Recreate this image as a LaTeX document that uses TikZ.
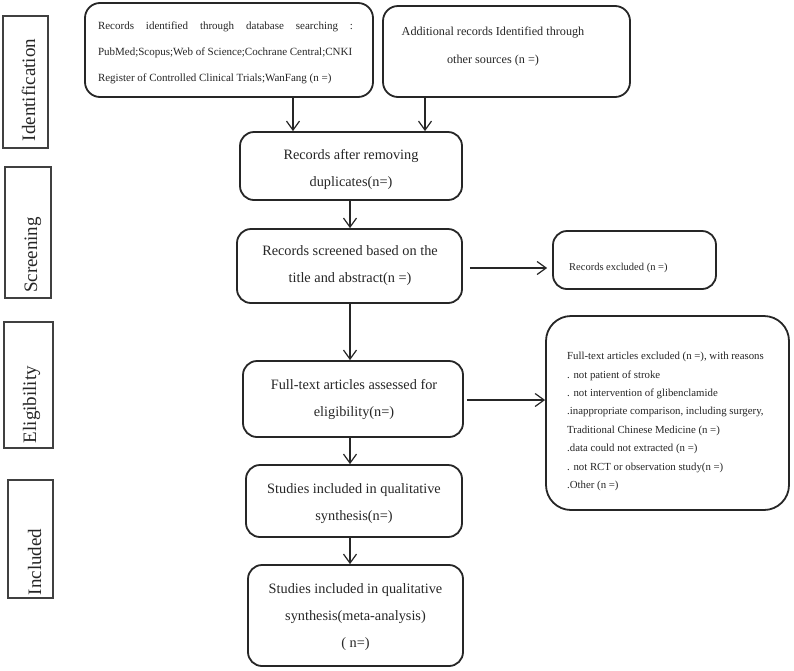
\documentclass[tikz,border=0pt]{standalone}
\usepackage{fontspec}
\setmainfont{Liberation Serif}
\usetikzlibrary{arrows.meta}
\begin{document}
\begin{tikzpicture}[x=1pt,y=-1pt,
  box/.style={draw=black!85, line width=1.8pt, rounded corners=14pt, inner sep=0pt},
  side/.style={draw=black!75, line width=1.1pt, inner sep=0pt},
  sidetxt/.style={rotate=90, anchor=base, inner sep=0pt, font=\fontsize{19}{22}\selectfont, text=black!85},
  mtxt/.style={align=center, inner sep=0pt, font=\fontsize{14.3}{27}\selectfont, text=black!85},
  stxt/.style={align=left, inner sep=0pt, text=black!85},
  arr/.style={line width=1.2pt, draw=black!85, -{Straight Barb[length=9pt,width=13pt]}}]
\useasboundingbox (0,0) rectangle (794,670);
\fill[white] (0,0) rectangle (794,670);

% side labels
\node[side, minimum width=45pt, minimum height=132pt] (idb) at (25.5,82) {};
\node[side, minimum width=46pt, minimum height=131pt] (scb) at (28,232.5) {};
\node[side, minimum width=49pt, minimum height=126pt] (elb) at (28.5,385) {};
\node[side, minimum width=45pt, minimum height=118pt] (inb) at (30.5,539) {};
\node[sidetxt] (idt) at (35,90) {Identification};
\node[sidetxt] (sct) at (37,255) {Screening};
\node[sidetxt] (elt) at (36,404.5) {Eligibility};
\node[sidetxt] (int) at (41,562) {Included};

% main boxes
\node[box, rounded corners=15pt, minimum width=288pt, minimum height=94pt] (b1) at (229,50) {};
\node[box, rounded corners=15pt, minimum width=247pt, minimum height=91pt] (b2) at (506.5,51.5) {};
\node[box, minimum width=222pt, minimum height=68pt] (b3) at (351,166) {};
\node[box, minimum width=225pt, minimum height=74pt] (b4) at (349.5,266) {};
\node[box, minimum width=163pt, minimum height=58pt] (b5) at (634.5,260) {};
\node[box, minimum width=220pt, minimum height=76pt] (b6) at (353,399) {};
\node[box, rounded corners=25pt, minimum width=243pt, minimum height=194pt] (b7) at (667.5,413) {};
\node[box, minimum width=216pt, minimum height=72pt] (b8) at (354,501) {};
\node[box, minimum width=215pt, minimum height=101pt] (b9) at (355.5,615.5) {};

% texts
\node[stxt, font=\fontsize{11}{26}\selectfont] (t1) at (225.5,53)
  {\hbox to 255pt{Records\hfill identified\hfill through\hfill database\hfill searching\hfill :}\\
   PubMed;Scopus;Web of Science;Cochrane Central;CNKI\\
   Register of Controlled Clinical Trials;WanFang (n =)};
\node[mtxt, font=\fontsize{12.2}{28}\selectfont] (t2) at (493,46)
  {Additional records Identified through\\other sources (n =)};
\node[mtxt] (t3) at (351,169) {Records after removing\\duplicates(n=)};
\node[mtxt] (t4) at (350,266) {Records screened based on the\\title and abstract(n =)};
\node[stxt, anchor=west, font=\fontsize{10.5}{12}\selectfont] (t5) at (569,268) {Records excluded (n =)};
\node[mtxt] (t6) at (354,399) {Full-text articles assessed for\\eligibility(n=)};
\node[stxt, anchor=west, font=\fontsize{10.8}{18.4}\selectfont] (t7) at (567,421.5)
  {Full-text articles excluded (n =), with reasons\\
   . not patient of stroke\\
   . not intervention of glibenclamide\\
   .inappropriate comparison, including surgery,\\
   Traditional Chinese Medicine (n =)\\
   .data could not extracted (n =)\\
   . not RCT or observation study(n =)\\
   .Other (n =)};
\node[mtxt] (t8) at (354,504) {Studies included in qualitative\\synthesis(n=)};
\node[mtxt] (t9) at (355.5,617) {Studies included in qualitative\\synthesis(meta-analysis)\\( n=)};

% connectors
\coordinate (xa) at (293,0);
\coordinate (xb) at (425,0);
\coordinate (xc) at (350,0);
\coordinate (ya) at (0,268);
\coordinate (yb) at (0,400);
\draw[arr] (b1.south -| xa) -- (b3.north -| xa);
\draw[arr] (b2.south -| xb) -- (b3.north -| xb);
\draw[arr] (b3.south -| xc) -- (b4.north -| xc);
\draw[arr, shorten <=7pt, shorten >=5pt] (b4.east |- ya) -- (b5.west |- ya);
\draw[arr] (b4.south -| xc) -- (b6.north -| xc);
\draw[arr, shorten <=3pt] (b6.east |- yb) -- (b7.west |- yb);
\draw[arr] (b6.south -| xc) -- (b8.north -| xc);
\draw[arr] (b8.south -| xc) -- (b9.north -| xc);
\end{tikzpicture}
\end{document}
